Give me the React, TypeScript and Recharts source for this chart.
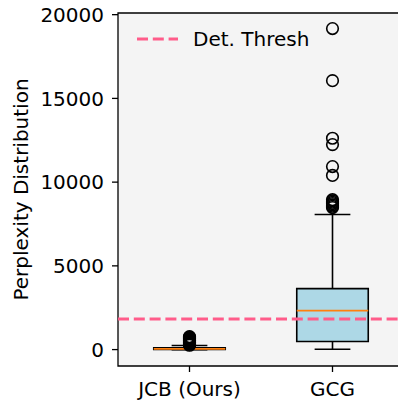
import React from 'react';
import { ComposedChart, XAxis, YAxis, ReferenceArea, ReferenceLine, Scatter, Legend } from 'recharts';

const categories = ['JCB (Ours)', 'GCG'];
const positions = [1, 2];
const q1Values = [10, 480];
const medianValues = [45, 2330];
const q3Values = [110, 3640];
const whiskerLow = [0, 20];
const whiskerHigh = [240, 8070];
const jcbFliers = [260, 300, 340, 380, 420, 460, 500, 540, 580, 620, 660, 700, 740, 770];
const gcgFliers = [8480, 8560, 8640, 8720, 8800, 8880, 8950, 10400, 10930, 12240, 12620, 16060, 19170];
const thresholdValue = 1820;
const thresholdLabel = 'Det. Thresh';
const yTicks = [0, 5000, 10000, 15000, 20000];
const yLabel = 'Perplexity Distribution';

const X_DOMAIN: [number, number] = [0.5, 2.5];
const Y_DOMAIN: [number, number] = [-980, 20100];
const BOX_HALF = 0.25;
const CAP_HALF = 0.125;
const FONT = '"DejaVu Sans", sans-serif';
const FS = 20;

const flierData = [
  ...jcbFliers.map((y) => ({ x: positions[0], y })),
  ...gcgFliers.map((y) => ({ x: positions[1], y })),
];

const FlierShape = (props: any) => (
  <circle cx={props.cx} cy={props.cy} r={5.8} fill="none" stroke="#000" strokeWidth={1.6} />
);

export default function App() {
  const boxes: React.ReactElement[] = [];
  positions.forEach((p, i) => {
    boxes.push(
      <ReferenceArea
        key={`box${i}`}
        x1={p - BOX_HALF}
        x2={p + BOX_HALF}
        y1={q1Values[i]}
        y2={q3Values[i]}
        fill="#add8e6"
        fillOpacity={1}
        stroke="#000"
        strokeWidth={1.6}
        ifOverflow="visible"
      />
    );
  });
  const lines: React.ReactElement[] = [];
  positions.forEach((p, i) => {
    lines.push(
      <ReferenceLine key={`wl${i}`} segment={[{ x: p, y: q1Values[i] }, { x: p, y: whiskerLow[i] }]} stroke="#000" strokeWidth={1.6} ifOverflow="visible" />,
      <ReferenceLine key={`wh${i}`} segment={[{ x: p, y: q3Values[i] }, { x: p, y: whiskerHigh[i] }]} stroke="#000" strokeWidth={1.6} ifOverflow="visible" />,
      <ReferenceLine key={`cl${i}`} segment={[{ x: p - CAP_HALF, y: whiskerLow[i] }, { x: p + CAP_HALF, y: whiskerLow[i] }]} stroke="#000" strokeWidth={1.6} ifOverflow="visible" />,
      <ReferenceLine key={`ch${i}`} segment={[{ x: p - CAP_HALF, y: whiskerHigh[i] }, { x: p + CAP_HALF, y: whiskerHigh[i] }]} stroke="#000" strokeWidth={1.6} ifOverflow="visible" />,
      <ReferenceLine key={`md${i}`} segment={[{ x: p - BOX_HALF, y: medianValues[i] }, { x: p + BOX_HALF, y: medianValues[i] }]} stroke="#ff7f0e" strokeWidth={1.7} ifOverflow="visible" />
    );
  });

  return (
    <div style={{ position: 'fixed', left: 0, top: 0, width: 398, height: 402, overflow: 'hidden', background: '#fff' }}>
      <ComposedChart width={410} height={402} margin={{ top: 13, right: 6, bottom: 0, left: 0 }}>
        <XAxis
          type="number"
          dataKey="x"
          domain={X_DOMAIN}
          allowDataOverflow
          ticks={positions}
          interval={0}
          tickFormatter={(v: number) => categories[positions.indexOf(v)] ?? ''}
          height={36}
          axisLine={false}
          tickLine={{ stroke: '#000', strokeWidth: 1.3 }}
          tickSize={6}
          tickMargin={10}
          tick={{ fill: '#000', fontSize: FS, fontFamily: FONT }}
        />
        <YAxis
          type="number"
          dataKey="y"
          domain={Y_DOMAIN}
          allowDataOverflow
          ticks={yTicks}
          interval={0}
          width={118}
          axisLine={false}
          tickLine={{ stroke: '#000', strokeWidth: 1.3 }}
          tickSize={6}
          tickMargin={8}
          tick={{ fill: '#000', fontSize: FS, fontFamily: FONT }}
          label={{
            content: (lp: any) => {
              const vb = lp.viewBox || { x: 0, y: 13, width: 118, height: 353 };
              const cx = vb.x + 21;
              const cy = vb.y + vb.height / 2;
              return (
                <text
                  x={cx}
                  y={cy}
                  transform={`rotate(-90, ${cx}, ${cy})`}
                  textAnchor="middle"
                  dominantBaseline="central"
                  fill="#000"
                  fontSize={FS}
                  fontFamily={FONT}
                >
                  {yLabel}
                </text>
              );
            },
          }}
        />
        <ReferenceArea x1={X_DOMAIN[0]} x2={X_DOMAIN[1]} y1={Y_DOMAIN[0]} y2={Y_DOMAIN[1]} fill="#f4f4f4" fillOpacity={1} stroke="none" ifOverflow="visible" />
        {boxes}
        {lines}
        <ReferenceLine y={thresholdValue} stroke="#ff5c8a" strokeWidth={3} strokeDasharray="11 4.8" ifOverflow="visible" />
        <Scatter data={flierData} dataKey="y" shape={FlierShape} isAnimationActive={false} legendType="none" />
        <ReferenceArea x1={X_DOMAIN[0]} x2={X_DOMAIN[1]} y1={Y_DOMAIN[0]} y2={Y_DOMAIN[1]} fill="none" fillOpacity={0} stroke="#000" strokeWidth={1.3} ifOverflow="visible" />
        <Legend
          layout="horizontal"
          verticalAlign="middle"
          align="center"
          wrapperStyle={{ left: 130, top: 25, width: 200, height: 30 }}
          content={() => (
            <svg width={200} height={30} style={{ display: 'block' }}>
              <line x1={7} x2={48} y1={14} y2={14} stroke="#ff5c8a" strokeWidth={3} strokeDasharray="11 4.8" />
              <text x={63} y={21} fill="#000" fontSize={FS} fontFamily={FONT}>
                {thresholdLabel}
              </text>
            </svg>
          )}
        />
      </ComposedChart>
    </div>
  );
}
